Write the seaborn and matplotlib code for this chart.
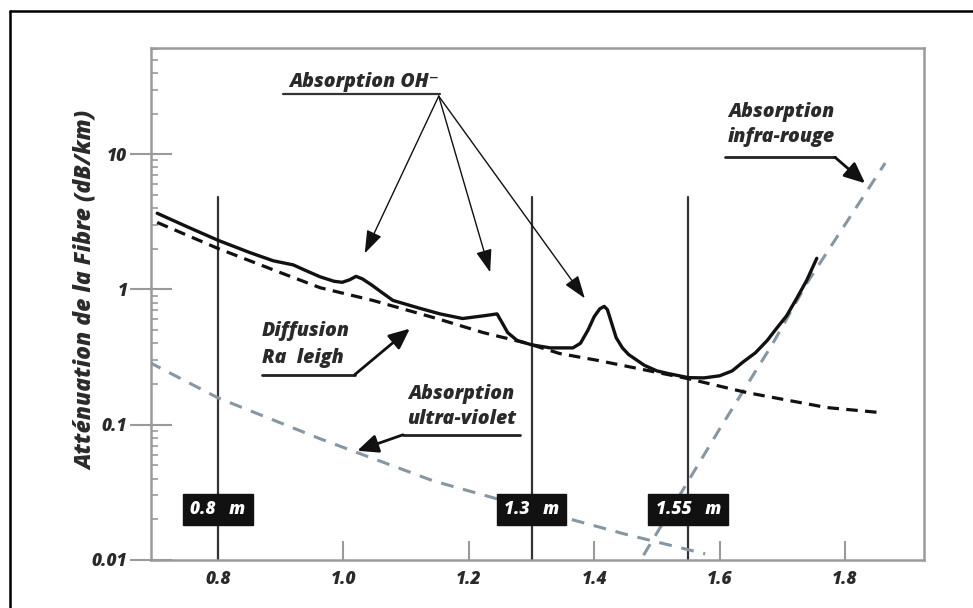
import matplotlib
matplotlib.use("Agg")
import matplotlib.pyplot as plt
from matplotlib.lines import Line2D
import seaborn as sns
import numpy as np
import pandas as pd

# ---------------- data ----------------
wl_total = [0.703, 0.75, 0.80, 0.85, 0.888, 0.92, 0.94, 0.963, 0.985, 0.998, 1.010,
            1.020, 1.030, 1.045, 1.06, 1.079, 1.12, 1.154, 1.19, 1.225, 1.245, 1.252,
            1.262, 1.277, 1.30, 1.33, 1.366, 1.378, 1.39, 1.40, 1.409, 1.416, 1.421,
            1.428, 1.435, 1.445, 1.455, 1.48, 1.50, 1.52, 1.55, 1.575, 1.60, 1.62,
            1.637, 1.657, 1.676, 1.69, 1.707, 1.723, 1.739, 1.755]
att_total = [3.66, 2.92, 2.31, 1.88, 1.63, 1.52, 1.38, 1.24, 1.15, 1.13, 1.18,
             1.25, 1.20, 1.08, 0.96, 0.83, 0.73, 0.66, 0.61, 0.64, 0.66, 0.58,
             0.48, 0.42, 0.39, 0.37, 0.37, 0.40, 0.50, 0.63, 0.72, 0.75, 0.71,
             0.56, 0.44, 0.37, 0.33, 0.275, 0.25, 0.238, 0.223, 0.222, 0.23, 0.25,
             0.29, 0.34, 0.42, 0.51, 0.64, 0.86, 1.17, 1.70]

wl_rayleigh = [0.703, 0.80, 0.90, 0.963, 1.047, 1.149, 1.223, 1.293, 1.345, 1.404,
               1.55, 1.643, 1.771, 1.856]
att_rayleigh = [3.13, 2.01, 1.33, 1.03, 0.83, 0.61, 0.48, 0.40, 0.336, 0.30,
                0.219, 0.173, 0.134, 0.123]

wl_uv = [0.69, 0.80, 0.963, 1.023, 1.143, 1.30, 1.45, 1.577]
att_uv = [0.29, 0.158, 0.0787, 0.062, 0.0385, 0.024, 0.0155, 0.0111]

wl_ir = [1.46, 1.60, 1.685, 1.739, 1.864]
att_ir = [0.0078, 0.093, 0.40, 1.11, 8.6]

windows = [0.8, 1.3, 1.55]
window_labels = ["0.8   m", "1.3   m", "1.55   m"]

x_ticks = [0.8, 1.0, 1.2, 1.4, 1.6, 1.8]
x_ticklabels = ["0.8", "1.0", "1.2", "1.4", "1.6", "1.8"]
y_ticks = [0.01, 0.1, 1, 10]
y_ticklabels = ["0.01", "0.1", "1", "10"]

ylabel = "Atténuation de la Fibre (dB/km)"

# ---------------- style ----------------
sns.set_theme(style="white")
FAM = ["Open Sans", "DejaVu Sans"]
plt.rcParams["font.family"] = FAM
plt.rcParams["font.style"] = "italic"

WEIGHT = 800
TXT = "#2a2a2a"
SPINE = "#9a9a9a"
GREY_DASH = "#8497a3"

fig = plt.figure(figsize=(9.73, 6.08), dpi=100)
W, H = 973, 608
L, R, T, B = 151, 924, 48, 560
ax = fig.add_axes([L / W, 1 - B / H, (R - L) / W, (B - T) / H])

df_total = pd.DataFrame({"wl": wl_total, "att": att_total})
df_ray = pd.DataFrame({"wl": wl_rayleigh, "att": att_rayleigh})
df_uv = pd.DataFrame({"wl": wl_uv, "att": att_uv})
df_ir = pd.DataFrame({"wl": wl_ir, "att": att_ir})

ax.set_yscale("log")
ax.set_xlim(0.6931, 1.926)
ax.set_ylim(0.01, 61)

# window vertical lines
for w in windows:
    ax.plot([w, w], [0.01, 4.8], color="#333333", lw=1.6, zorder=2)

sns.lineplot(data=df_uv, x="wl", y="att", ax=ax, color=GREY_DASH, lw=2.2,
             sort=False, estimator=None, zorder=3)
ax.get_lines()[-1].set_dashes((4.2, 3.2))
sns.lineplot(data=df_ir, x="wl", y="att", ax=ax, color=GREY_DASH, lw=2.2,
             sort=False, estimator=None, zorder=3)
ax.get_lines()[-1].set_dashes((4.2, 3.2))
sns.lineplot(data=df_ray, x="wl", y="att", ax=ax, color="#111111", lw=2.3,
             sort=False, estimator=None, zorder=4)
ax.get_lines()[-1].set_dashes((3.6, 2.3))
sns.lineplot(data=df_total, x="wl", y="att", ax=ax, color="#111111", lw=2.4,
             sort=False, estimator=None, zorder=5)
ax.get_lines()[-1].set_solid_capstyle("round")
ax.get_lines()[-1].set_solid_joinstyle("round")

# window boxes
for w, lab in zip(windows, window_labels):
    ax.text(w, 0.0237, lab, ha="center", va="center", color="white",
            fontsize=12.5, fontweight=WEIGHT, fontstyle="italic", zorder=6,
            bbox=dict(boxstyle="square,pad=0.42", fc="#111111", ec="#111111"))

tfont = dict(fontsize=14, fontweight=WEIGHT, fontstyle="italic", color=TXT)

# Absorption OH-
ax.text(0.913, 34.2, "Absorption OH⁻", ha="left", va="center", **tfont)
ax.plot([0.904, 1.154], [27.8, 27.8], color="#333333", lw=1.6)
for tip in [(1.034, 1.85), (1.234, 1.34), (1.385, 0.86)]:
    ax.annotate("", xy=tip, xytext=(1.152, 26.9),
                arrowprops=dict(arrowstyle="-|>,head_length=1.0,head_width=0.35",
                                color="#111111", lw=1.0, shrinkA=0, shrinkB=0,
                                mutation_scale=14))

# Diffusion Rayleigh
ax.text(0.870, 0.497, "Diffusion", ha="left", va="center", **tfont)
ax.text(0.870, 0.313, "Ra  leigh", ha="left", va="center", **tfont)
ax.plot([0.870, 1.018], [0.2346, 0.2346], color="#222222", lw=2.0)
ax.annotate("", xy=(1.106, 0.514), xytext=(1.018, 0.2346),
            arrowprops=dict(arrowstyle="-|>,head_length=0.9,head_width=0.4",
                            color="#111111", lw=2.0, shrinkA=0, shrinkB=0,
                            mutation_scale=14))

# Absorption ultra-violet
ax.text(1.188, 0.170, "Absorption", ha="center", va="center", **tfont)
ax.text(1.188, 0.111, "ultra-violet", ha="center", va="center", **tfont)
ax.plot([1.095, 1.282], [0.0843, 0.0843], color="#222222", lw=2.0)
ax.annotate("", xy=(1.022, 0.0642), xytext=(1.095, 0.0843),
            arrowprops=dict(arrowstyle="-|>,head_length=0.9,head_width=0.4",
                            color="#111111", lw=2.0, shrinkA=0, shrinkB=0,
                            mutation_scale=14))

# Absorption infra-rouge
ax.text(1.699, 20.5, "Absorption", ha="center", va="center", **tfont)
ax.text(1.699, 13.4, "infra-rouge", ha="center", va="center", **tfont)
ax.plot([1.609, 1.784], [9.5, 9.5], color="#222222", lw=2.0)
ax.annotate("", xy=(1.832, 6.1), xytext=(1.784, 9.5),
            arrowprops=dict(arrowstyle="-|>,head_length=0.9,head_width=0.4",
                            color="#111111", lw=2.0, shrinkA=0, shrinkB=0,
                            mutation_scale=14))

# axes styling
for s in ax.spines.values():
    s.set_color(SPINE)
    s.set_linewidth(1.8)
    s.set_visible(True)

ax.set_xticks(x_ticks)
ax.set_xticklabels(x_ticklabels)
ax.set_yticks(y_ticks)
ax.set_yticklabels(y_ticklabels)
ax.yaxis.set_minor_locator(matplotlib.ticker.LogLocator(base=10, subs=np.arange(2, 10)))
ax.yaxis.set_minor_formatter(matplotlib.ticker.NullFormatter())
ax.tick_params(axis="x", which="major", direction="in", length=14, width=1.5,
               color=SPINE, pad=8, labelsize=12.5, labelcolor=TXT, bottom=True)
ax.tick_params(axis="y", which="major", direction="inout", length=30, width=1.5,
               color=SPINE, pad=2, labelsize=12.5, labelcolor=TXT, left=True)
ax.tick_params(axis="y", which="minor", direction="in", length=5, width=1.2,
               color=SPINE, left=True)
for lab in ax.get_xticklabels() + ax.get_yticklabels():
    lab.set_fontweight(WEIGHT)
    lab.set_fontstyle("italic")
ax.set_xlabel("")
ax.set_ylabel("")

fig.text(86 / W, 1 - 290 / H, ylabel, rotation=90, ha="center", va="center",
         fontsize=16.5, fontweight=WEIGHT, fontstyle="italic", color=TXT)

# outer frame (top and left edges visible)
fig.add_artist(Line2D([10 / W, 1.0], [1 - 11 / H, 1 - 11 / H], color="black", lw=1.8,
                      transform=fig.transFigure))
fig.add_artist(Line2D([10 / W, 10 / W], [0.0, 1 - 11 / H], color="black", lw=1.8,
                      transform=fig.transFigure))

fig.savefig("out.png", dpi=100)
